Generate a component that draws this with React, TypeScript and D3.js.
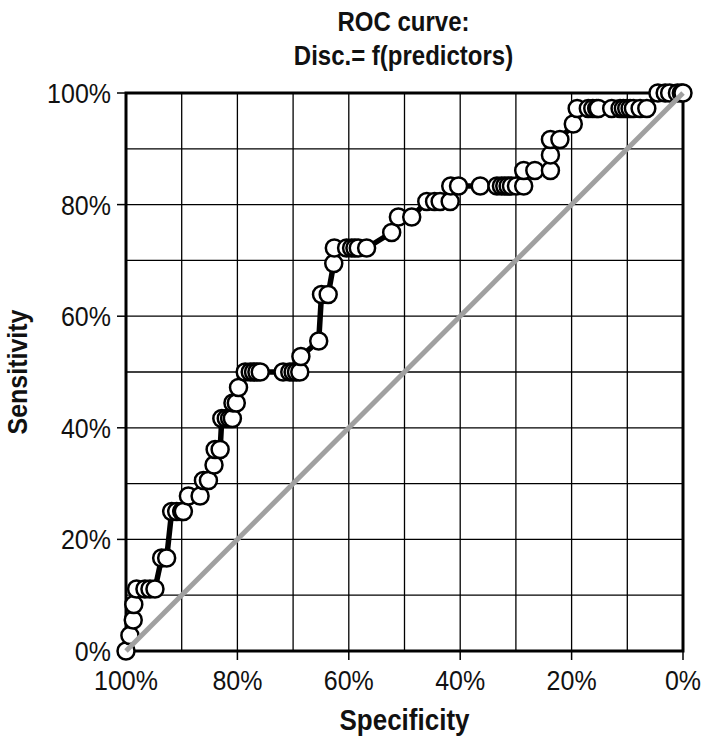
import React from "react";
import * as d3 from "d3";

// ROC points: specificity (%) and sensitivity (count of 36 positives -> %)
const specificity = [
  100, 99.3, 98.7, 98.6, 98.1, 96.6, 95.7, 94.8, 93.6, 92.7,
  91.8, 90.9, 90.0, 89.7, 88.8, 86.7, 86.1, 85.2, 84.2, 84.0,
  83.1, 82.8, 82.0, 81.4, 80.9, 80.8, 80.2, 79.8, 78.6, 77.7,
  77.1, 76.5, 75.9, 71.8, 70.6, 70.0, 69.4, 68.8, 68.6, 65.4,
  64.9, 63.7, 62.7, 62.6, 60.4, 59.5, 58.9, 58.3, 56.8, 52.3,
  51.1, 48.7, 46.0, 44.6, 43.6, 41.8, 41.7, 40.3, 36.4, 33.4,
  32.6, 32.0, 31.4, 30.8, 29.9, 28.6, 28.6, 26.6, 23.8, 23.8,
  23.8, 22.1, 19.7, 19.0, 17.0, 16.2, 15.5, 15.2, 12.8, 11.3,
  10.7, 10.1, 9.5, 8.9, 7.7, 6.5, 4.5, 3.2, 2.4, 1.0, 0.3, 0,
];
const positives = [
  0, 1, 2, 3, 4, 4, 4, 4, 6, 6,
  9, 9, 9, 9, 10, 10, 11, 11, 12, 13,
  13, 15, 15, 15, 15, 16, 16, 17, 18, 18,
  18, 18, 18, 18, 18, 18, 18, 18, 19, 20,
  23, 23, 25, 26, 26, 26, 26, 26, 26, 27,
  28, 28, 29, 29, 29, 29, 30, 30, 30, 30,
  30, 30, 30, 30, 30, 30, 31, 31, 31, 32,
  33, 33, 34, 35, 35, 35, 35, 35, 35, 35,
  35, 35, 35, 35, 35, 35, 36, 36, 36, 36, 36, 36,
];
const totalPositives = 36;

const tickValues = [100, 80, 60, 40, 20, 0];
const gridValues = [0, 10, 20, 30, 40, 50, 60, 70, 80, 90, 100];
const titleLines = ["ROC curve:", "Disc.= f(predictors)"];
const xTitle = "Specificity";
const yTitle = "Sensitivity";

const W = 709;
const H = 741;
const left = 126;
const right = 683;
const top = 93;
const bottom = 651;
const font = "'Liberation Sans', Arial, sans-serif";
const SY = 1.12; // vertical stretch of the text, as in the reference

function T(props: {
  x: number;
  y: number;
  anchor: string;
  size: number;
  bold?: boolean;
  rotate?: number;
  children: string;
}) {
  const { x, y, anchor, size, bold, rotate, children } = props;
  return (
    <text
      transform={`translate(${x},${y})${rotate ? ` rotate(${rotate})` : ""} scale(1,${SY})`}
      textAnchor={anchor}
      fontFamily={font}
      fontWeight={bold ? "bold" : "normal"}
      fontSize={size}
      fill="#111"
    >
      {children}
    </text>
  );
}

export default function App() {
  const x = d3.scaleLinear().domain([100, 0]).range([left, right]);
  const y = d3.scaleLinear().domain([0, 100]).range([bottom, top]);
  const pts = specificity.map((s, i) => [s, (positives[i] / totalPositives) * 100]);
  const line = d3
    .line<number[]>()
    .x((d) => x(d[0]))
    .y((d) => y(d[1]));

  return (
    <svg
      width={W}
      height={H}
      style={{ position: "absolute", left: 0, top: 0, background: "#fff" }}
    >
      <rect x={0} y={0} width={W} height={H} fill="#fff" />
      {gridValues.map((g) => (
        <g key={"g" + g}>
          <line x1={x(g)} x2={x(g)} y1={top} y2={bottom} stroke="#000" strokeWidth={1.3} />
          <line x1={left} x2={right} y1={y(g)} y2={y(g)} stroke="#000" strokeWidth={1.3} />
        </g>
      ))}
      <rect
        x={left}
        y={top}
        width={right - left}
        height={bottom - top}
        fill="none"
        stroke="#000"
        strokeWidth={3}
      />
      {tickValues.map((t) => (
        <g key={"t" + t}>
          <line x1={x(t)} x2={x(t)} y1={bottom} y2={bottom + 9} stroke="#000" strokeWidth={1.5} />
          <line x1={left - 9} x2={left} y1={y(t)} y2={y(t)} stroke="#000" strokeWidth={1.5} />
          <T x={x(t)} y={bottom + 39} anchor="middle" size={25}>
            {t + "%"}
          </T>
          <T x={left - 15} y={y(t) + 10} anchor="end" size={25}>
            {t + "%"}
          </T>
        </g>
      ))}
      <path d={line(pts) || ""} fill="none" stroke="#000" strokeWidth={5.5} strokeLinejoin="round" />
      {pts.map((p, i) => (
        <circle key={"p" + i} cx={x(p[0])} cy={y(p[1])} r={8.5} fill="#fff" stroke="#000" strokeWidth={2.5} />
      ))}
      <line x1={x(100)} y1={y(0)} x2={x(0)} y2={y(100)} stroke="#a0a0a0" strokeWidth={5} />
      {titleLines.map((t, i) => (
        <T key={"tl" + i} x={(left + right) / 2 - 1} y={31 + i * 34} anchor="middle" size={24} bold>
          {t}
        </T>
      ))}
      <T x={(left + right) / 2} y={730} anchor="middle" size={26} bold>
        {xTitle}
      </T>
      <T x={27} y={(top + bottom) / 2} anchor="middle" size={25} bold rotate={-90}>
        {yTitle}
      </T>
    </svg>
  );
}
